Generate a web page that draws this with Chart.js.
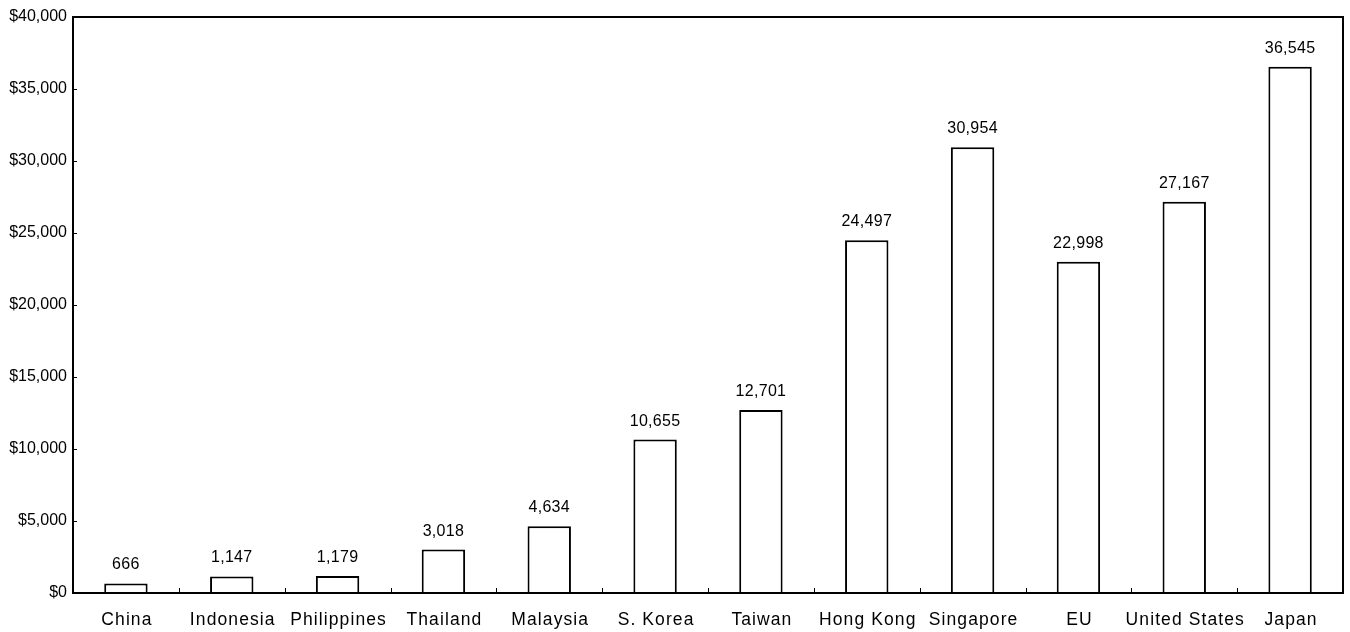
<!DOCTYPE html>
<html><head><meta charset="utf-8">
<script src="https://cdn.jsdelivr.net/npm/chart.js@4.4.0/dist/chart.umd.min.js"></script>
<style>html,body{margin:0;padding:0;background:#fff}#wrap{width:1350px;height:632px}</style>
</head><body><div id="wrap"><canvas id="c"></canvas></div>
<script>
const categories = ["China","Indonesia","Philippines","Thailand","Malaysia","S. Korea","Taiwan","Hong Kong","Singapore","EU","United States","Japan"];
const values = [666,1147,1179,3018,4634,10655,12701,24497,30954,22998,27167,36545];
const yTicks = [0,5000,10000,15000,20000,25000,30000,35000,40000];

const FONT = '"Liberation Sans", Arial, Helvetica, sans-serif';
const fmt = v => v.toLocaleString('en-US');

const framePlugin = {
  id: 'frame',
  afterDatasetsDraw(chart) {
    const {ctx, chartArea: a, scales: {x, y}} = chart;
    ctx.save();
    ctx.strokeStyle = '#000';
    ctx.lineWidth = 2;
    ctx.beginPath();
    ctx.moveTo(a.left, a.bottom); ctx.lineTo(a.left, a.top); ctx.lineTo(a.right, a.top); ctx.lineTo(a.right, a.bottom); ctx.lineTo(a.left, a.bottom);
    ctx.closePath();
    ctx.stroke();
    // x boundary ticks (inside, pointing up)
    ctx.lineWidth = 1;
    ctx.beginPath();
    for (let i = 1; i < categories.length; i++) {
      const px = (x.getPixelForValue(i - 1) + x.getPixelForValue(i)) / 2;
      ctx.moveTo(Math.round(px) + 0.5, a.bottom); ctx.lineTo(Math.round(px) + 0.5, a.bottom - 5);
    }
    // y ticks inward
    yTicks.forEach(t => { const py = Math.round(y.getPixelForValue(t)) + 0.5; ctx.moveTo(a.left, py); ctx.lineTo(a.left + 4, py); });
    ctx.stroke();
    // data labels
    ctx.fillStyle = '#000';
    ctx.font = '16px ' + FONT;
    ctx.textAlign = 'center';
    ctx.textBaseline = 'alphabetic';
    try { ctx.letterSpacing = '0.3px'; } catch (e) {}
    const meta = chart.getDatasetMeta(0);
    meta.data.forEach((bar, i) => {
      ctx.fillText(fmt(values[i]), bar.x, bar.y - 14);
    });
    // category labels
    ctx.font = '17.5px ' + FONT;
    try { ctx.letterSpacing = '1.1px'; } catch (e) {}
    ctx.textBaseline = 'middle';
    categories.forEach((c, i) => {
      ctx.fillText(c, x.getPixelForValue(i) + 1, a.bottom + 27);
    });
    ctx.restore();
  }
};

new Chart(document.getElementById('c'), {
  type: 'bar',
  data: {
    labels: categories,
    datasets: [{
      data: values,
      backgroundColor: '#fff',
      borderColor: '#000',
      borderWidth: 2,
      categoryPercentage: 1,
      barPercentage: 0.41
    }]
  },
  options: {
    responsive: true,
    maintainAspectRatio: false,
    animation: false,
    layout: { padding: { top: 17, right: 7, left: 0, bottom: 0 } },
    plugins: { legend: { display: false }, tooltip: { enabled: false } },
    scales: {
      x: {
        grid: { display: false, drawTicks: false },
        border: { display: false },
        ticks: { display: false },
        afterFit(s) { s.height = 39; }
      },
      y: {
        min: 0, max: 40000,
        afterBuildTicks(s) { s.ticks = yTicks.map(v => ({ value: v })); },
        grid: { display: false, drawTicks: false },
        border: { display: false },
        ticks: { color: '#000', font: { family: FONT, size: 16 }, padding: 6, callback: v => '$' + fmt(v) },
        afterFit(s) { s.width = 73; }
      }
    }
  },
  plugins: [framePlugin]
});
</script>
</body></html>
